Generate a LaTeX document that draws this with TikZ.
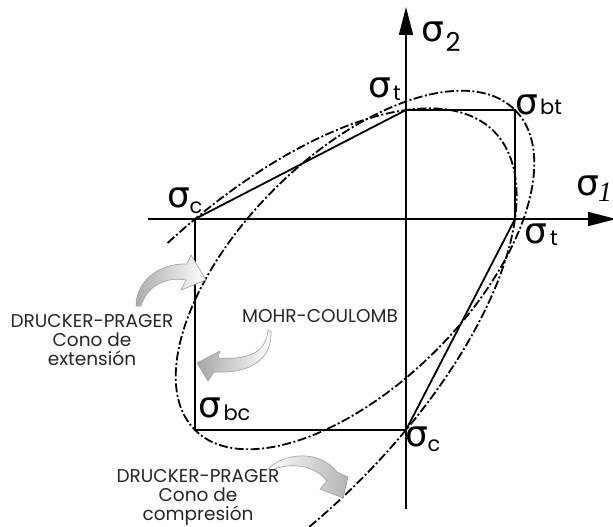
\documentclass[tikz,border=0pt]{standalone}
\usepackage{fontspec}
\setmainfont{Poppins}
\newfontfamily\sigfont{DejaVu Sans}
\newfontfamily\serifit{Liberation Serif}
\usetikzlibrary{arrows.meta}
\begin{document}
\begin{tikzpicture}[x=1pt,y=-1pt,
  ax/.style={line width=1.8pt},
  mc/.style={line width=1.8pt, line join=miter},
  dp/.style={line width=1.8pt, dash pattern=on 9pt off 2.5pt on 2pt off 2.5pt},
  sig/.style={inner sep=0pt, font=\sigfont\fontsize{36}{36}\selectfont},
  sub/.style={inner sep=0pt, font=\fontsize{21}{21}\selectfont},
  lbl/.style={inner sep=0pt, align=center, font=\fontsize{18.5}{19}\selectfont, text=black!85},
  swoosh/.style={draw=gray!75, line width=0.6pt}
]
\useasboundingbox (0,0) rectangle (613,527);
\clip (0,0) rectangle (613,527);

% axes
\coordinate (xs) at (148,219);
\coordinate (xe) at (616,219);
\coordinate (ys) at (406,509);
\coordinate (ye) at (406,7);
\draw[ax,-{Triangle[length=28pt,width=14pt]}] (xs) -- (xe);
\draw[ax,-{Triangle[length=28pt,width=14pt]}] (ys) -- (ye);

% Mohr-Coulomb hexagon
\coordinate (tt) at (406,110);
\coordinate (bt) at (515,110);
\coordinate (tr) at (515,219);
\coordinate (cb) at (406,430);
\coordinate (bc) at (195,430);
\coordinate (cl) at (195,219);
\draw[mc] (tt) -- (bt) -- (tr) -- (cb) -- (bc) -- (cl) -- cycle;

% Drucker-Prager extension cone (full ellipse)
\draw[dp] (355,270) ellipse [x radius=226.3, y radius=114.2, rotate=45];
% Drucker-Prager compression cone (partial ellipse)
\begin{scope}[shift={(251.6,373.4)}, rotate=45]
  \draw[dp] plot[domain=-84.5:106, samples=240, smooth] ({342.5*cos(\x)}, {152.3*sin(\x)});
\end{scope}

% curved arrows
\path[swoosh, left color=gray!65, right color=white]
  (136,306) .. controls (136,282) and (158,263) .. (187,264) -- (191,255) -- (206,280)
  -- (181,290) -- (186,280) .. controls (164,276) and (146,288) .. (141,306) -- cycle;
\path[swoosh, left color=gray!70, right color=white]
  (268,330) .. controls (266,352) and (250,360) .. (218,358) -- (220,351) -- (197,363)
  -- (208,381) -- (214,372) .. controls (252,374) and (272,358) .. (271,332) -- cycle;
\path[swoosh, left color=white, right color=gray!60]
  (268,469) .. controls (285,452) and (320,450) .. (337,472) -- (348,477) -- (343,498)
  -- (320,489) -- (327,481) .. controls (315,465) and (290,462) .. (272,470) -- cycle;

% labels
\node[lbl, anchor=north] (l1) at (92,314) {DRUCKER-PRAGER\\Cono de\\extensión};
\node[lbl] (l2) at (320,316.5) {MOHR-COULOMB};
\node[lbl, anchor=south] (l3) at (198,526) {DRUCKER-PRAGER\\Cono de\\compresión};

% sigma labels
\node[sig] (s2) at (433,32) {σ};
\node[inner sep=0pt, font=\fontsize{26}{26}\selectfont] (s2i) at (453,42) {2};
\node[sig] (s1) at (588,186) {σ};
\node[inner sep=0pt, font=\serifit\itshape\fontsize{28}{28}\selectfont] (s1i) at (605,192) {1};
\node[sig] (st1) at (380,88) {σ};
\node[sub] (st1i) at (397,93) {t};
\node[sig] (sbt) at (527,105) {σ};
\node[sub] (sbti) at (551,107) {bt};
\node[sig] (st2) at (536,234) {σ};
\node[sub] (st2i) at (554,238) {t};
\node[sig] (sc1) at (179,198) {σ};
\node[sub] (sc1i) at (196,208) {c};
\node[sig] (sbc) at (210,408) {σ};
\node[sub] (sbci) at (237,413) {bc};
\node[sig] (sc2) at (417,437) {σ};
\node[sub] (sc2i) at (434,446) {c};
\end{tikzpicture}
\end{document}
